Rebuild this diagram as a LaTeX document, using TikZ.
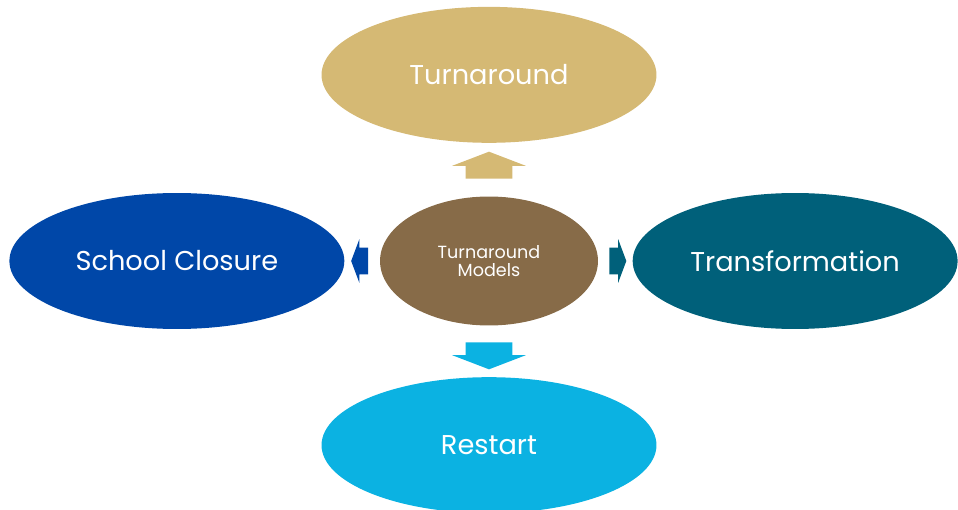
\documentclass[tikz,border=0pt]{standalone}
\usepackage{fontspec}
\setmainfont{Poppins}
\usepackage{xcolor}
\usetikzlibrary{shapes.geometric,shapes.arrows}
\usetikzlibrary{positioning,calc}
\definecolor{turntan}{HTML}{D5B974}
\definecolor{closeblue}{HTML}{0047A8}
\definecolor{transteal}{HTML}{00607A}
\definecolor{restartcyan}{HTML}{0BB2E2}
\definecolor{hubbrown}{HTML}{876B48}

\begin{document}
\begin{tikzpicture}[x=0.02cm,y=-0.02cm]
\tikzset{model/.style={ellipse,inner sep=0pt,minimum width=6.7cm,minimum height=2.72cm,text=white,font=\fontsize{15.5}{18}\selectfont}}
\tikzset{bigarrow/.style={single arrow,inner xsep=0pt,inner ysep=0.46cm,single arrow head extend=0.27cm,single arrow tip angle=138,minimum height=0.54cm}}
\tikzset{smallarrow/.style={single arrow,inner xsep=0pt,inner ysep=0.26cm,single arrow head extend=0.17cm,single arrow tip angle=139,minimum height=0.34cm}}
\useasboundingbox (0,0) rectangle (958,510);
\clip (0,0) rectangle (958,510);
\node[ellipse,inner sep=0pt,minimum width=4.36cm,minimum height=2.58cm,fill=hubbrown,text=white,align=center,font=\fontsize{10}{10.5}\selectfont](hub) at (489,261){Turnaround\\Models};
\node[model,fill=turntan](turn)[above=1.06cm of hub]{Turnaround};
\node[model,fill=closeblue](close)[left=0.7cm of hub]{School Closure};
\node[model,fill=transteal,minimum width=6.5cm](trans)[right=0.68cm of hub]{Transformation};
\node[model,fill=restartcyan](restart)[below=1.02cm of hub]{Restart};
\node[bigarrow,fill=turntan,rotate=90](toturn) at ($(hub.north)!0.5!(turn.south)$){};
\node[smallarrow,fill=closeblue,rotate=180](toclose) at ($(hub.west)!0.5!(close.east)$){};
\node[smallarrow,fill=transteal](totrans) at ($(hub.east)!0.5!(trans.west)$){};
\node[bigarrow,fill=restartcyan,rotate=-90](torestart) at ($(hub.south)!0.5!(restart.north)$){};
\end{tikzpicture}
\end{document}
